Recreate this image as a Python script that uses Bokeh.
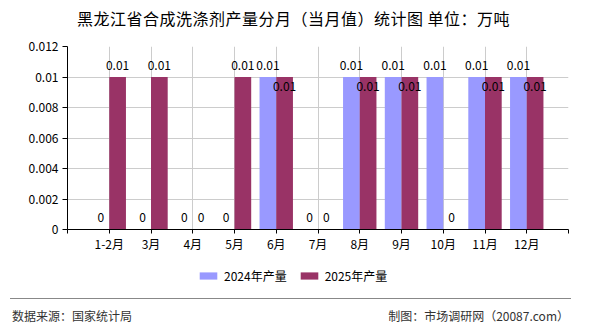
from bokeh.plotting import figure
from bokeh.models import (ColumnDataSource, FixedTicker, Legend, LegendItem, Range1d, Div)
from bokeh.layouts import column
from bokeh.core.properties import value
from bokeh.embed import file_html
from bokeh.resources import INLINE

# Monthly output (当月值), unit: 万吨
months = ["1-2月", "3月", "4月", "5月", "6月", "7月", "8月", "9月", "10月", "11月", "12月"]
output_2024 = [0, 0, 0, 0, 0.01, 0, 0.01, 0.01, 0.01, 0.01, 0.01]
output_2025 = [0.01, 0.01, 0, 0.01, 0.01, 0, 0.01, 0.01, 0, 0.01, 0.01]
y_ticks = [0, 0.002, 0.004, 0.006, 0.008, 0.01, 0.012]
y_tick_labels = ["0", "0.002", "0.004", "0.006", "0.008", "0.01", "0.012"]
series_names = ["2024年产量", "2025年产量"]
title_text = "黑龙江省合成洗涤剂产量分月（当月值）统计图 单位：万吨"

FONT = "Noto Sans CJK SC"
C2024 = "#9999FF"
C2025 = "#993366"
BAR_W = 0.4
W = 590
TITLE_H = 36
MAIN_H = 219
LEG_H = 43
FOOT_H = 32
BORDER_L, BORDER_R = 67, 22

pos = list(range(1, len(months) + 1))


def fmt(v):
    return f"{v:g}"


src24 = ColumnDataSource(dict(
    x=[p - BAR_W / 2 for p in pos], top=output_2024,
    label=[fmt(v) for v in output_2024],
    yoff=[-12] * len(pos),
))
# the 2025 label drops inside the bar when the 2024 label sits at the same height
src25 = ColumnDataSource(dict(
    x=[p + BAR_W / 2 for p in pos], top=output_2025,
    label=[fmt(v) for v in output_2025],
    yoff=[9 if (b == a and b != 0) else -12 for a, b in zip(output_2024, output_2025)],
))

# ---- title ------------------------------------------------------------------
title = Div(
    width=W, height=TITLE_H, margin=0,
    text=(
        '<div style="margin-left:77px;padding-top:8px;white-space:nowrap;'
        "font-family:'Noto Sans CJK SC';font-size:16px;line-height:20px;"
        f'letter-spacing:0.5px;color:#000000;">{title_text}</div>'
    ),
)

# ---- main chart -------------------------------------------------------------
p = figure(width=W, height=MAIN_H, output_backend="svg", toolbar_location=None,
           x_range=Range1d(0, len(months) + 1), y_range=Range1d(0, 0.012),
           min_border_left=BORDER_L, min_border_right=BORDER_R, min_border_top=10,
           min_border_bottom=26)
p.outline_line_color = None
p.background_fill_color = "white"
p.border_fill_color = "white"

p.vbar(x="x", top="top", width=BAR_W, source=src24, fill_color=C2024, line_color=None)
p.vbar(x="x", top="top", width=BAR_W, source=src25, fill_color=C2025, line_color=None)

for src in (src24, src25):
    p.text(x="x", y="top", text="label", source=src, y_offset="yoff",
           text_align="center", text_baseline="middle",
           text_font=value(FONT), text_font_size="12px", text_color="black")

p.xaxis.ticker = FixedTicker(ticks=list(range(len(months) + 2)))
xover = {0: "", len(months) + 1: ""}
xover.update({i: m for i, m in zip(pos, months)})
p.xaxis.major_label_overrides = xover
p.yaxis.ticker = FixedTicker(ticks=y_ticks)
p.yaxis.major_label_overrides = {t: l for t, l in zip(y_ticks, y_tick_labels)}

for ax in (p.xaxis[0], p.yaxis[0]):
    ax.axis_line_color = "black"
    ax.major_tick_line_color = "black"
    ax.minor_tick_line_color = None
    ax.major_tick_in = 0
    ax.major_label_text_font = FONT
    ax.major_label_text_font_size = "12px"
    ax.major_label_text_color = "black"
p.yaxis.major_tick_out = 5
p.yaxis.major_label_standoff = 4
p.xaxis.major_tick_out = 4
p.xaxis.major_label_standoff = 1

p.xgrid.grid_line_color = "#cccccc"
p.ygrid.grid_line_color = "#cccccc"

# ---- legend strip -------------------------------------------------------------
lf = figure(width=W, height=LEG_H, output_backend="svg", toolbar_location=None,
            x_range=Range1d(0, 1), y_range=Range1d(0, 1),
            x_axis_type=None, y_axis_type=None,
            min_border_left=BORDER_L, min_border_right=BORDER_R,
            min_border_top=0, min_border_bottom=0)
lf.grid.visible = False
lf.outline_line_color = None
lf.background_fill_color = "white"
lf.border_fill_color = "white"
# hidden copies of the two bar series supply the legend swatches
k24 = lf.vbar(x="x", top="top", width=BAR_W, source=src24, fill_color=C2024,
              line_color=None, visible=False)
k25 = lf.vbar(x="x", top="top", width=BAR_W, source=src25, fill_color=C2025,
              line_color=None, visible=False)
legend = Legend(items=[LegendItem(label=series_names[0], renderers=[k24]),
                       LegendItem(label=series_names[1], renderers=[k25])],
                orientation="horizontal", location=(130, 14),
                glyph_width=22, glyph_height=9, label_height=14, label_standoff=5,
                spacing=11, padding=0, margin=0, border_line_color=None,
                background_fill_alpha=0, label_text_font=FONT,
                label_text_font_size="12px", label_text_color="black")
lf.add_layout(legend, "center")

# ---- source line ------------------------------------------------------------
footer = Div(
    width=W, height=FOOT_H, margin=0,
    text=(
        '<div style="margin-left:10px;width:561px;box-sizing:border-box;'
        'border-top:1.5px solid #888888;'
        'display:flex;justify-content:space-between;padding:9px 2px 0 2px;'
        "font-family:'Noto Sans CJK SC';font-size:12px;line-height:16px;color:#333333;"
        'white-space:nowrap;">'
        '<span>数据来源：国家统计局</span>'
        '<span>制图：市场调研网（20087.com）</span></div>'
    ),
)

layout = column(title, p, lf, footer, spacing=0)
open("out.html", "w").write(file_html(layout, INLINE))
